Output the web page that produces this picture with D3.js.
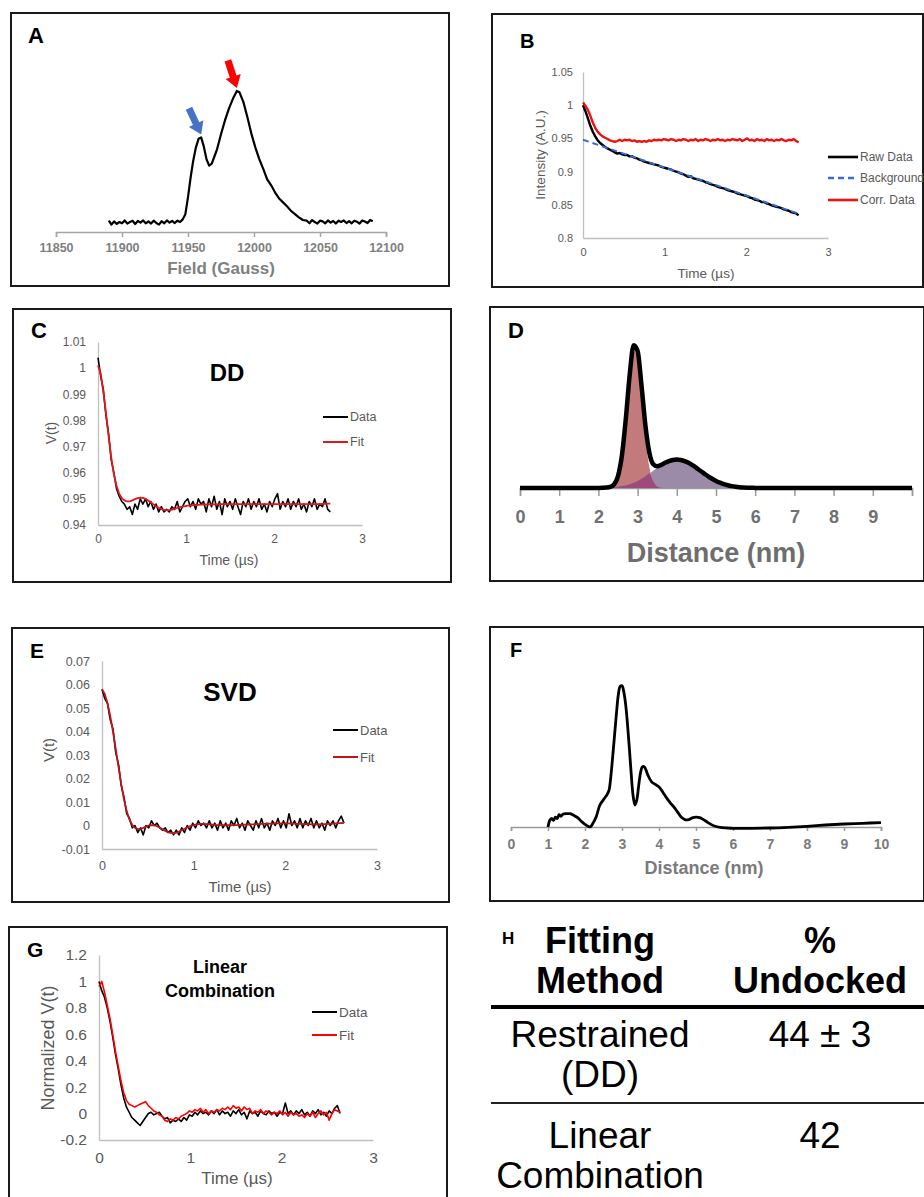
<!DOCTYPE html>
<html>
<head>
<meta charset="utf-8">
<script src="https://cdn.jsdelivr.net/npm/d3@7"></script>
<style>
  body { margin: 0; background: #fff; }
  svg { display: block; }
</style>
</head>
<body>
<svg id="fig" width="924" height="1197"></svg>
<script>
// ---- data ----

// A: echo-detected field sweep
const fieldGauss = [
  11890,11892,11894,11896,11898,11900,11902,11904,11906,11908,
  11910,11912,11914,11916,11918,11920,11922,11924,11926,11928,
  11930,11932,11934,11936,11938,11940,11942,11944,11946,
  11948,11950,11952,11954,11956,11958,11960,11962,11964,11966,
  11968,11970,11972,11975,11978,11981,11984,11987,11989,11992,
  11995,11998,12001,12004,12007,12010,12013,12016,12019,12022,
  12025,12028,12031,12034,12037,
  12040,12042,12044,12046,12048,12050,12052,12054,12056,12058,
  12060,12062,12064,12066,12068,12070,12072,12074,12076,12078,
  12080,12082,12084,12086,12088,12090
];
const eprSignal = [
  0.01,-0.02,0.005,-0.015,0,-0.01,0.012,-0.012,0,0.01,
  -0.015,0.008,-0.005,0.012,-0.01,0.004,-0.012,0.01,-0.008,-0.02,
  0.006,-0.01,0.012,-0.004,0.008,-0.008,0.01,0,0.02,
  0.06,0.19,0.34,0.47,0.57,0.635,0.645,0.575,0.48,0.43,
  0.445,0.5,0.555,0.67,0.775,0.865,0.94,1.0,0.99,0.915,
  0.8,0.675,0.57,0.48,0.405,0.325,0.28,0.225,0.18,0.15,
  0.12,0.085,0.06,0.035,0.015,
  0.01,-0.01,0.015,0,-0.012,0.01,0.005,-0.01,0.012,-0.005,
  0.008,-0.012,0.01,0,0.012,-0.008,0.006,-0.01,0.01,0.002,
  -0.012,0.012,0.004,-0.008,0.015,0.005
];
const fieldTicks = [11850, 11900, 11950, 12000, 12050, 12100];
const arrowPeaks = [
  { field: 11960, value: 0.645, color: '#4472c4', tilt: 25 },
  { field: 11987, value: 1.0, color: '#ff0000', tilt: 18 }
];

// shared time grid for B, C, E, G (µs)
const timeUs = [
  0,0.03,0.06,0.09,0.12,0.15,0.18,0.21,0.24,0.27,
  0.3,0.33,0.36,0.39,0.42,0.45,0.48,0.51,0.54,0.57,
  0.6,0.63,0.66,0.69,0.72,0.75,0.78,0.81,0.84,0.87,
  0.9,0.93,0.96,0.99,1.02,1.05,1.08,1.11,1.14,1.17,
  1.2,1.23,1.26,1.29,1.32,1.35,1.38,1.41,1.44,1.47,
  1.5,1.53,1.56,1.59,1.62,1.65,1.68,1.71,1.74,1.77,
  1.8,1.83,1.86,1.89,1.92,1.95,1.98,2.01,2.04,2.07,
  2.1,2.13,2.16,2.19,2.22,2.25,2.28,2.31,2.34,2.37,
  2.4,2.43,2.46,2.49,2.52,2.55,2.58,2.61,2.64
];
const timeTicks = [0, 1, 2, 3];

// B: raw trace, background, corrected
const rawB = [
  1.000,0.991,0.980,0.969,0.960,0.953,0.947,0.943,0.940,0.937,
  0.935,0.933,0.931,0.929,0.927,0.928,0.926,0.925,0.925,0.923,
  0.923,0.921,0.920,0.918,0.917,0.915,0.914,0.913,0.912,0.911,
  0.910,0.909,0.907,0.906,0.905,0.904,0.903,0.901,0.900,0.899,
  0.897,0.896,0.894,0.892,0.893,0.890,0.889,0.888,0.887,0.886,
  0.884,0.883,0.881,0.880,0.879,0.877,0.876,0.875,0.874,0.872,
  0.871,0.870,0.869,0.867,0.866,0.865,0.864,0.863,0.861,0.860,
  0.858,0.857,0.856,0.854,0.854,0.852,0.851,0.849,0.848,0.847,
  0.846,0.845,0.843,0.842,0.841,0.839,0.838,0.837,0.834
];
const bgTime = [0, 1, 2, 2.65];
const bgB = [0.948, 0.906, 0.864, 0.836];
const corrB = [
  1.004,0.999,0.993,0.984,0.974,0.966,0.960,0.956,0.953,0.951,
  0.949,0.947,0.946,0.945,0.946,0.948,0.946,0.948,0.947,0.948,
  0.946,0.947,0.945,0.946,0.945,0.946,0.945,0.947,0.946,0.948,
  0.947,0.948,0.947,0.949,0.948,0.947,0.949,0.948,0.946,0.948,
  0.947,0.949,0.948,0.946,0.948,0.947,0.949,0.946,0.948,0.947,
  0.949,0.948,0.946,0.948,0.947,0.949,0.947,0.948,0.946,0.948,
  0.947,0.949,0.948,0.947,0.949,0.946,0.948,0.950,0.947,0.948,
  0.946,0.949,0.947,0.948,0.946,0.949,0.947,0.948,0.946,0.948,
  0.947,0.949,0.947,0.946,0.948,0.947,0.949,0.946,0.944
];
const ticksB = [0.8, 0.85, 0.9, 0.95, 1, 1.05];
const legendB = ['Raw Data', 'Background', 'Corr. Data'];

// C: DD fit
const dataC = [
  1.004,0.997,0.992,0.982,0.975,0.965,0.960,0.954,0.951,0.949,
  0.948,0.946,0.947,0.944,0.948,0.946,0.950,0.948,0.950,0.947,
  0.949,0.946,0.948,0.945,0.947,0.945,0.946,0.945,0.947,0.946,
  0.949,0.945,0.947,0.949,0.950,0.947,0.949,0.946,0.950,0.948,
  0.949,0.945,0.950,0.947,0.951,0.946,0.949,0.944,0.950,0.947,
  0.949,0.946,0.950,0.947,0.944,0.949,0.947,0.950,0.946,0.949,
  0.947,0.950,0.946,0.948,0.945,0.949,0.947,0.950,0.952,0.946,
  0.949,0.947,0.950,0.946,0.949,0.947,0.950,0.946,0.948,0.945,
  0.949,0.947,0.950,0.946,0.948,0.947,0.950,0.946,0.945
];
const fitC = [
  1.001,0.998,0.991,0.983,0.974,0.966,0.9595,0.955,0.952,0.9503,
  0.9494,0.949,0.949,0.9494,0.9499,0.9503,0.9505,0.9504,0.95,0.9494,
  0.9487,0.9479,0.9472,0.9466,0.9461,0.9458,0.9457,0.9457,0.9459,0.9462,
  0.9465,0.9468,0.947,0.9472,0.9474,0.9475,0.9476,0.9477,0.9477,0.9478,
  0.9478,0.9479,0.9479,0.9479,0.9479,0.9479,0.948,0.948,0.948,0.948,
  0.948,0.948,0.948,0.948,0.948,0.948,0.948,0.948,0.948,0.948,
  0.948,0.948,0.948,0.948,0.948,0.948,0.948,0.948,0.948,0.948,
  0.948,0.948,0.948,0.948,0.948,0.948,0.948,0.948,0.948,0.948,
  0.948,0.948,0.948,0.948,0.948,0.9481,0.9481,0.9482,0.9482
];
const ticksC = [0.94, 0.95, 0.96, 0.97, 0.98, 0.99, 1, 1.01];

// D: two-gaussian distance distribution
const distD = [
  0, 1,
  1.8,1.9,2.0,2.1,2.2,2.3,2.4,2.5,2.6,2.7,2.8,2.9,3.0,3.1,3.2,3.3,3.4,3.5,
  3.6,3.7,3.8,3.9,4.0,4.1,4.2,4.3,4.4,4.5,4.6,4.7,4.8,4.9,5.0,5.1,5.2,5.3,
  5.4,5.5,5.6,5.7,5.8,5.9,6.0,6.1,6.2,
  7, 10
];
const dockedD = [
  0, 0,
  0,0,0,0.0001,0.0006,0.0041,0.0204,0.077,0.221,0.481,0.791,0.988,0.934,0.67,0.364,0.15,0.047,0.011,
  0.002,0.0003,0,0,0,0,0,0,0,0,0,0,0,0,0,0,0,0,
  0,0,0,0,0,0,0,0,0,
  0, 0
];
const undockedD = [
  0, 0,
  0.0002,0.0004,0.0008,0.0014,0.0023,0.0037,0.0059,0.009,0.0135,0.0196,0.0277,0.0382,0.0511,0.0666,0.084,0.104,0.124,0.145,
  0.164,0.181,0.194,0.202,0.205,0.202,0.194,0.181,0.164,0.145,0.124,0.104,0.084,0.0666,0.0511,0.0382,0.0277,0.0196,
  0.0135,0.009,0.0059,0.0037,0.0023,0.0014,0.0008,0.0004,0.0002,
  0, 0
];
const distTicks = [0, 1, 2, 3, 4, 5, 6, 7, 8, 9, 10];

// E: SVD fit
const dataE = [
  0.058,0.054,0.052,0.045,0.041,0.031,0.026,0.017,0.012,0.005,
  0.003,-0.001,0,-0.003,-0.001,-0.004,0,-0.001,0.002,0,
  0.001,-0.001,-0.002,-0.001,-0.003,-0.002,-0.004,-0.002,-0.004,-0.001,
  -0.003,0,-0.002,0.001,-0.001,0.002,0,0.001,-0.001,0.002,
  -0.001,0.001,-0.002,0.002,-0.001,0.001,-0.002,0.002,0,0.003,
  -0.001,0.001,-0.002,0.002,0,-0.002,0.002,-0.001,0.003,-0.001,
  0.001,-0.002,0.002,0,0.003,-0.001,0.002,-0.001,0.005,0,
  0.002,-0.001,0.003,-0.001,0.002,0,0.003,-0.001,0.002,-0.001,
  0.001,-0.002,0.002,0,0.002,-0.001,0.002,0.004,0.001
];
const fitE = [
  0.058,0.056,0.052,0.0465,0.04,0.0325,0.025,0.0175,0.011,0.006,
  0.0025,0.0003,-0.001,-0.0015,-0.0014,-0.001,-0.0004,0,0.0002,0.0001,
  -0.0003,-0.0009,-0.0016,-0.0023,-0.0028,-0.0031,-0.0032,-0.003,-0.0026,-0.002,
  -0.0014,-0.0008,-0.0003,0.0001,0.0004,0.0006,0.0007,0.0007,0.0006,0.0005,
  0.0004,0.0003,0.0002,0.0002,0.0001,0.0001,0.0001,0.0001,0.0002,0.0002,
  0.0003,0.0003,0.0004,0.0004,0.0005,0.0005,0.0006,0.0006,0.0007,0.0007,
  0.0008,0.0008,0.0008,0.0009,0.0009,0.0009,0.0009,0.0009,0.0009,0.0008,
  0.0008,0.0007,0.0007,0.0006,0.0006,0.0006,0.0005,0.0005,0.0005,0.0005,
  0.0006,0.0006,0.0007,0.0008,0.0008,0.0009,0.001,0.001,0.0011
];
const ticksE = [-0.01, 0, 0.01, 0.02, 0.03, 0.04, 0.05, 0.06, 0.07];

// F: Tikhonov-style distance distribution
const distF = [
  1.0,1.05,1.1,1.15,1.2,1.25,1.3,1.35,1.4,1.5,1.6,1.7,1.8,1.9,2.0,2.1,2.15,2.2,2.3,2.4,
  2.5,2.6,2.65,2.7,2.75,2.8,2.85,2.9,2.95,3.0,3.05,3.1,3.15,3.2,3.25,3.3,3.35,3.4,3.45,3.5,
  3.55,3.6,3.65,3.7,3.8,3.9,4.0,4.1,4.2,4.3,4.4,4.5,4.6,4.7,4.8,4.9,5.0,5.1,5.2,5.3,
  5.4,5.5,5.7,6.0,6.5,7.0,7.5,8.0,8.5,9.0,9.5,10.0
];
const probF = [
  0.0,0.047,0.06,0.047,0.07,0.06,0.087,0.075,0.09,0.094,0.094,0.082,0.066,0.04,0.019,0.003,0.002,0.019,0.07,0.153,
  0.193,0.23,0.26,0.36,0.5,0.65,0.8,0.93,0.99,0.995,0.95,0.86,0.72,0.55,0.37,0.22,0.155,0.19,0.29,0.38,
  0.424,0.424,0.4,0.365,0.318,0.3,0.282,0.247,0.207,0.172,0.141,0.106,0.07,0.052,0.052,0.064,0.07,0.066,0.052,0.035,
  0.019,0.007,-0.005,-0.009,-0.009,-0.007,-0.002,0.005,0.014,0.021,0.026,0.031
];

// G: linear combination fit
const dataG = [
  1.00,0.93,0.88,0.80,0.70,0.58,0.45,0.34,0.22,0.12,
  0.05,0.01,-0.03,-0.05,-0.07,-0.09,-0.06,-0.03,0.0,0.01,
  -0.01,0.0,0.01,-0.02,-0.04,-0.03,-0.07,-0.05,-0.06,-0.04,
  -0.06,-0.03,-0.05,-0.01,-0.02,0.01,-0.01,0.02,0.0,0.01,
  -0.01,0.02,0.0,0.03,-0.01,0.02,0.0,0.01,-0.02,0.02,
  0.0,0.03,-0.01,0.01,-0.04,0.02,0.0,0.01,-0.02,0.02,
  0.0,-0.01,0.02,0.0,0.01,-0.02,0.01,0.0,0.08,0.0,
  0.02,-0.01,0.02,0.0,0.03,-0.01,0.01,-0.02,0.02,0.0,
  0.03,-0.01,0.01,-0.02,0.02,0.0,0.04,0.06,0.0
];
const fitG = [
  0.96,1.00,0.92,0.82,0.72,0.60,0.47,0.36,0.25,0.16,
  0.10,0.07,0.06,0.05,0.06,0.07,0.08,0.09,0.06,0.04,
  0.02,0.01,-0.01,-0.02,-0.05,-0.06,-0.04,-0.05,-0.03,-0.04,
  -0.02,-0.01,0.0,0.02,0.01,0.03,0.02,0.04,0.01,0.03,
  0.0,0.02,0.01,0.03,0.02,0.04,0.03,0.05,0.03,0.06,
  0.04,0.05,0.02,0.05,0.03,0.04,0.0,0.02,0.01,0.03,
  0.0,0.02,0.01,-0.01,0.01,0.0,0.02,-0.01,0.01,-0.02,
  0.01,-0.01,0.0,-0.02,-0.01,-0.03,0.0,-0.02,0.01,-0.03,
  0.0,0.02,-0.01,0.01,-0.05,0.0,0.03,0.02,0.01
];
const ticksG = [-0.2, 0, 0.2, 0.4, 0.6, 0.8, 1, 1.2];
const legendFit = ['Data', 'Fit'];

// H: table
const tableHead = [['Fitting', 'Method'], ['%', 'Undocked']];
const tableRows = [
  { method: ['Restrained', '(DD)'], undocked: '44 \u00B1 3' },
  { method: ['Linear', 'Combination'], undocked: '42' }
];

// ---- drawing ----
const FONT = '"Liberation Sans", Arial, Helvetica, sans-serif';
const AXIS_GREY = '#bfbfbf';
const TICK_GREY = '#595959';
const svg = d3.select('#fig').attr('font-family', FONT);

function text(x, y, str, size, o = {}) {
  return svg.append('text')
    .attr('x', x).attr('y', y)
    .attr('font-size', size)
    .attr('font-weight', o.bold ? 'bold' : null)
    .attr('fill', o.fill || '#000')
    .attr('text-anchor', o.anchor || 'start')
    .attr('dominant-baseline', o.baseline || null)
    .attr('transform', o.rotate ? `rotate(${o.rotate},${x},${y})` : null)
    .text(str);
}

// panel frames
[[11, 13, 449, 286], [492, 14, 923, 287], [13, 309, 451, 582], [490, 307, 924, 581],
 [12, 628, 449, 902], [490, 627, 924, 901], [9, 927, 447, 1200]].forEach(b => {
  svg.append('rect').attr('x', b[0]).attr('y', b[1])
    .attr('width', b[2] - b[0]).attr('height', b[3] - b[1])
    .attr('fill', 'none').attr('stroke', '#1a1a1a').attr('stroke-width', 2);
});

// panel letters
text(28, 43, 'A', 22, { bold: true });
text(520, 48, 'B', 20, { bold: true });
text(31, 338, 'C', 22, { bold: true });
text(508, 338, 'D', 22, { bold: true });
text(30, 658, 'E', 21, { bold: true });
text(510, 657, 'F', 20, { bold: true });
text(27, 957, 'G', 21, { bold: true });
text(502, 944, 'H', 17, { bold: true });

// ---------- A ----------
(function panelA() {
  const x = d3.scaleLinear().domain([11850, 12100]).range([56, 386]);
  const y = d3.scaleLinear().domain([0, 1]).range([222, 91]);
  const ax = svg.append('g').attr('transform', 'translate(0,232)')
    .call(d3.axisBottom(x).tickValues(fieldTicks).tickSize(5).tickPadding(6).tickFormat(d3.format('d')));
  ax.attr('font-family', FONT).attr('font-size', 12.5);
  ax.selectAll('path,line').attr('stroke', '#a6a6a6').attr('stroke-width', 1.5);
  ax.selectAll('text').attr('fill', '#808080').attr('font-weight', 'bold');
  text(221, 274, 'Field (Gauss)', 17, { bold: true, fill: '#808080', anchor: 'middle' });

  svg.append('path').datum(d3.zip(fieldGauss, eprSignal))
    .attr('fill', 'none').attr('stroke', '#000').attr('stroke-width', 2.2)
    .attr('stroke-linejoin', 'round')
    .attr('d', d3.line().x(d => x(d[0])).y(d => y(d[1])));

  const arrowShape = [[0, 0], [-8, -12], [-3.5, -12], [-3.5, -29], [3.5, -29], [3.5, -12], [8, -12]];
  arrowPeaks.forEach(a => {
    svg.append('polygon')
      .attr('points', arrowShape.map(p => p.join(',')).join(' '))
      .attr('fill', a.color)
      .attr('transform', `translate(${x(a.field)},${y(a.value) - 3}) rotate(${-a.tilt})`);
  });
})();

// ---------- Excel-style time-domain charts ----------
function timeChart(o) {
  const x = d3.scaleLinear().domain([0, 3]).range([o.left, o.right]);
  const y = d3.scaleLinear().domain(o.yDomain).range([o.bottom, o.top]);
  const fmt = d => String(+d.toFixed(3));

  const xa = svg.append('g').attr('transform', `translate(0,${o.bottom})`)
    .call(d3.axisBottom(x).tickValues(timeTicks).tickSize(0).tickPadding(o.xPad).tickFormat(fmt));
  const ya = svg.append('g').attr('transform', `translate(${o.left},0)`)
    .call(d3.axisLeft(y).tickValues(o.yTicks).tickSize(0).tickPadding(o.yPad).tickFormat(fmt));
  [xa, ya].forEach(a => {
    a.attr('font-family', FONT).attr('font-size', o.tickFont);
    a.select('.domain').attr('stroke', AXIS_GREY).attr('stroke-width', 1.3);
    a.selectAll('text').attr('fill', TICK_GREY);
  });

  text(o.xTitle[0], o.xTitle[1], 'Time (\u00B5s)', o.titleFont, { fill: TICK_GREY, anchor: 'middle', baseline: 'central' });
  text(o.yTitle[0], o.yTitle[1], o.yTitle[2], o.yTitleFont || o.titleFont,
    { fill: TICK_GREY, anchor: 'middle', baseline: 'central', rotate: -90 });

  const line = d3.line().x(d => x(d[0])).y(d => y(d[1]));
  o.series.forEach(s => {
    svg.append('path').datum(d3.zip(s.t, s.v))
      .attr('fill', 'none').attr('stroke', s.color).attr('stroke-width', s.width)
      .attr('stroke-dasharray', s.dash || null)
      .attr('stroke-linejoin', 'round')
      .attr('d', line);
  });

  o.legend.forEach((name, i) => {
    const s = o.series.find(d => d.name === name);
    const ly = o.legendY[i];
    svg.append('line').attr('x1', o.legendX[0]).attr('x2', o.legendX[1])
      .attr('y1', ly).attr('y2', ly)
      .attr('stroke', s.color).attr('stroke-width', s.legendWidth || 2)
      .attr('stroke-dasharray', s.dash || null);
    text(o.legendX[1] + 2, ly, name, o.legendFont, { fill: TICK_GREY, baseline: 'central' });
  });
}

timeChart({
  left: 583, right: 828, top: 72, bottom: 238,
  yDomain: [0.8, 1.05], yTicks: ticksB,
  tickFont: 11, xPad: 10.5, yPad: 10,
  titleFont: 13.5, xTitle: [706, 273], yTitle: [540, 155, 'Intensity (A.U.)'],
  legend: legendB, legendX: [828, 858], legendY: [157, 178, 200], legendFont: 12,
  series: [
    { name: 'Raw Data', t: timeUs, v: rawB, color: '#000', width: 2.4, legendWidth: 2.6 },
    { name: 'Background', t: bgTime, v: bgB, color: '#2f6fd8', width: 2, dash: '6,4', legendWidth: 2.4 },
    { name: 'Corr. Data', t: timeUs, v: corrB, color: '#ee1111', width: 2.4, legendWidth: 2.6 }
  ]
});

timeChart({
  left: 98, right: 362, top: 342, bottom: 525,
  yDomain: [0.94, 1.01], yTicks: ticksC,
  tickFont: 12, xPad: 9, yPad: 12,
  titleFont: 14, xTitle: [229, 560], yTitle: [51, 433, 'V(t)'],
  legend: legendFit, legendX: [323, 348], legendY: [417, 442], legendFont: 12.5,
  series: [
    { name: 'Data', t: timeUs, v: dataC, color: '#000', width: 1.6 },
    { name: 'Fit', t: timeUs, v: fitC, color: '#e3161b', width: 1.8 }
  ]
});
text(227, 381, 'DD', 24, { bold: true, anchor: 'middle' });

timeChart({
  left: 102, right: 377, top: 661, bottom: 849,
  yDomain: [-0.01, 0.07], yTicks: ticksE,
  tickFont: 12.5, xPad: 12, yPad: 12,
  titleFont: 15, xTitle: [240, 886], yTitle: [48, 750, 'V(t)'],
  legend: legendFit, legendX: [333, 358], legendY: [730, 757], legendFont: 13,
  series: [
    { name: 'Data', t: timeUs, v: dataE, color: '#000', width: 1.6 },
    { name: 'Fit', t: timeUs, v: fitE, color: '#c0141c', width: 1.8 }
  ]
});
text(230, 701, 'SVD', 26, { bold: true, anchor: 'middle' });

timeChart({
  left: 99, right: 373, top: 955, bottom: 1140,
  yDomain: [-0.2, 1.2], yTicks: ticksG,
  tickFont: 15.5, xPad: 12, yPad: 12,
  titleFont: 17, yTitleFont: 18, xTitle: [237, 1178], yTitle: [48, 1048, 'Normalized V(t)'],
  legend: legendFit, legendX: [312, 337], legendY: [1012, 1035], legendFont: 13.5,
  series: [
    { name: 'Data', t: timeUs, v: dataG, color: '#000', width: 1.6 },
    { name: 'Fit', t: timeUs, v: fitG, color: '#ff0000', width: 1.6 }
  ]
});
text(220, 973, 'Linear', 18, { bold: true, anchor: 'middle' });
text(220, 997, 'Combination', 18, { bold: true, anchor: 'middle' });

// ---------- distance axes (D, F) ----------
function distanceAxis(x, yPos, o) {
  const ax = svg.append('g').attr('transform', `translate(0,${yPos})`)
    .call(d3.axisBottom(x).tickValues(distTicks).tickSize(o.tick).tickPadding(o.pad)
      .tickFormat(d => (o.skipLast && d === 10) ? '' : d));
  ax.attr('font-family', FONT).attr('font-size', o.font);
  ax.selectAll('path,line').attr('stroke', '#9a9a9a').attr('stroke-width', 1.5);
  ax.selectAll('text').attr('fill', o.fill).attr('font-weight', 'bold');
  return ax;
}

(function panelD() {
  const x = d3.scaleLinear().domain([0, 10]).range([520, 912]);
  const y = d3.scaleLinear().domain([0, 1]).range([488, 349]);
  const pts = distD.map((d, i) => ({ d, r: dockedD[i], p: undockedD[i] }));
  distanceAxis(x, 488, { tick: 8, pad: 14, font: 18, fill: '#707070', skipLast: true });

  const area = f => d3.area().x(d => x(d.d)).y0(y(0)).y1(d => y(f(d))).curve(d3.curveMonotoneX);
  svg.append('path').datum(pts).attr('fill', '#c27a7a').attr('d', area(d => d.r));
  svg.append('path').datum(pts).attr('fill', '#9c8aa9').attr('d', area(d => d.p));
  svg.append('path').datum(pts).attr('fill', '#9e4a7c').attr('d', area(d => Math.min(d.r, d.p)));
  svg.append('path').datum(pts)
    .attr('fill', 'none').attr('stroke', '#000').attr('stroke-width', 4.5)
    .attr('stroke-linejoin', 'round')
    .attr('d', d3.line().x(d => x(d.d)).y(d => y(d.r + d.p)).curve(d3.curveMonotoneX));

  text(716, 562, 'Distance (nm)', 27, { bold: true, fill: '#6e6e6e', anchor: 'middle' });
})();

(function panelF() {
  const x = d3.scaleLinear().domain([0, 10]).range([511, 881]);
  const y = d3.scaleLinear().domain([0, 1]).range([827, 685]);
  distanceAxis(x, 827, { tick: 4, pad: 8, font: 14, fill: '#7a7a7a', skipLast: false });
  svg.append('path').datum(d3.zip(distF, probF))
    .attr('fill', 'none').attr('stroke', '#000').attr('stroke-width', 2.8)
    .attr('stroke-linejoin', 'round')
    .attr('d', d3.line().x(d => x(d[0])).y(d => y(d[1])).curve(d3.curveCatmullRom.alpha(0.5)));
  text(704, 874, 'Distance (nm)', 18, { bold: true, fill: '#7a7a7a', anchor: 'middle' });
})();

// ---------- H table ----------
(function panelH() {
  const colX = [600, 820];
  tableHead.forEach((lines, c) => {
    text(colX[c], 953, lines[0], 36, { bold: true, anchor: 'middle' });
    text(colX[c], 993, lines[1], 36, { bold: true, anchor: 'middle' });
  });
  svg.append('line').attr('x1', 491).attr('x2', 924).attr('y1', 1007).attr('y2', 1007)
    .attr('stroke', '#000').attr('stroke-width', 4);
  const rowBase = [1047, 1148];
  tableRows.forEach((r, i) => {
    text(colX[0], rowBase[i], r.method[0], 37, { anchor: 'middle' });
    text(colX[0], rowBase[i] + 40, r.method[1], 37, { anchor: 'middle' });
    text(colX[1], rowBase[i], r.undocked, 37, { anchor: 'middle' });
  });
  svg.append('line').attr('x1', 491).attr('x2', 924).attr('y1', 1103).attr('y2', 1103)
    .attr('stroke', '#222').attr('stroke-width', 2);
})();
</script>
</body>
</html>
